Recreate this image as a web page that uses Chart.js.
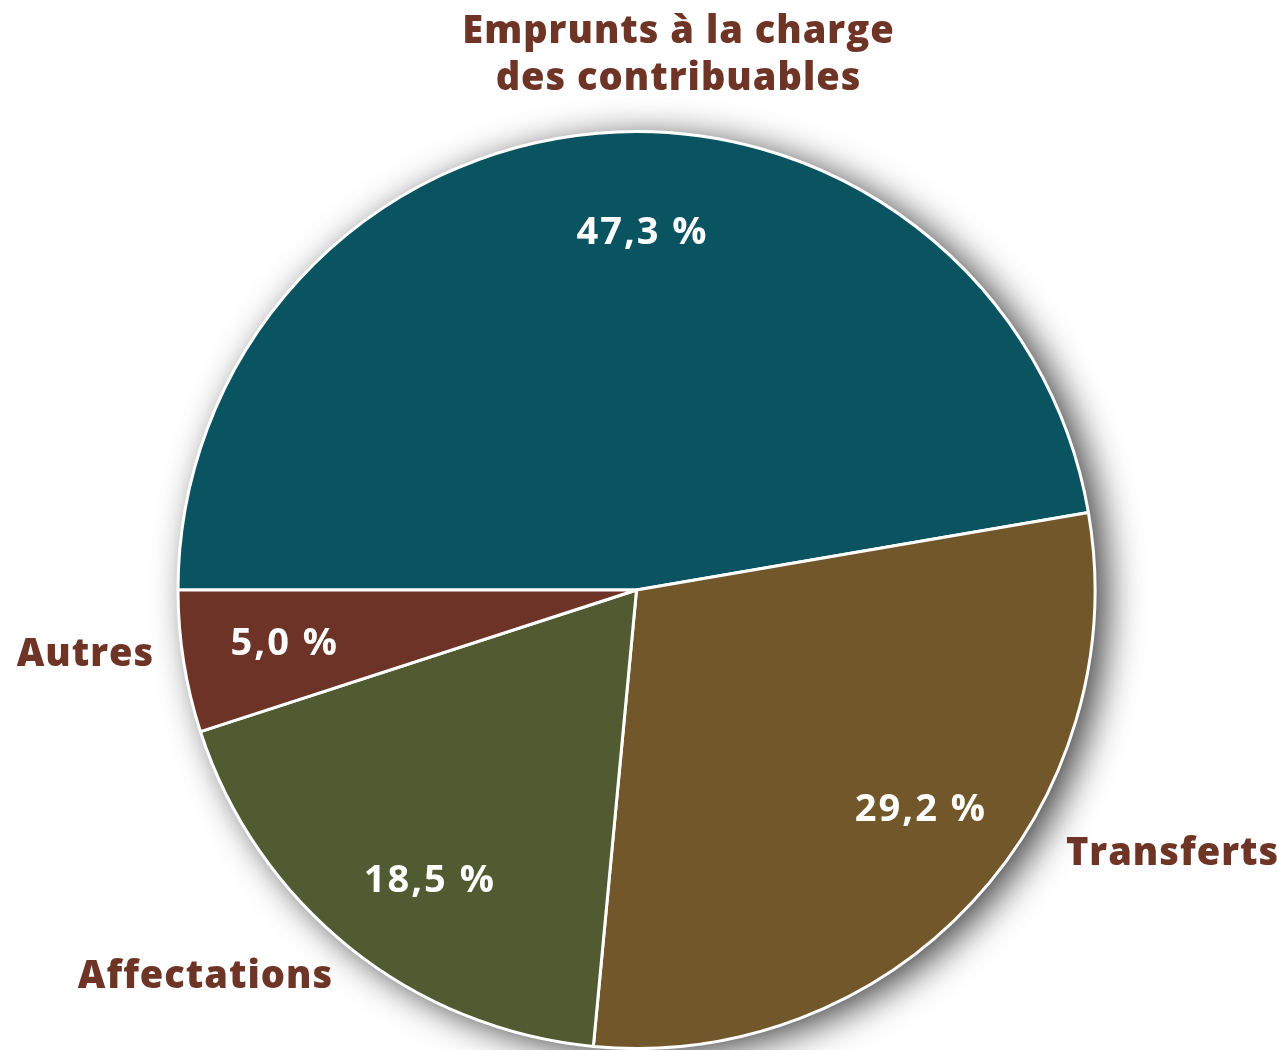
<!DOCTYPE html>
<html>
<head>
<meta charset="utf-8">
<script src="https://cdn.jsdelivr.net/npm/chart.js@4"></script>
<style>
  html, body { margin: 0; padding: 0; background: #fff; }
  #wrap { width: 1277px; height: 1050px; position: relative; }
</style>
</head>
<body>
<div id="wrap"><canvas id="pie"></canvas></div>
<script>
const categories = ["Emprunts à la charge des contribuables", "Transferts", "Affectations", "Autres"];
const shares = [47.3, 29.2, 18.5, 5.0];
const sliceColors = ["#0a5461", "#72572b", "#515a30", "#6d3327"];

const labelColor = "#6e3527";
const fontFamily = "'Open Sans', 'DejaVu Sans', sans-serif";

// outer labels, offsets from the pie centre
const outerLabels = [
  { lines: ["Emprunts à la charge", "des contribuables"], dx: 42, dy: [-547, -500] },
  { lines: ["Transferts"], dx: 536, dy: [275] },
  { lines: ["Affectations"], dx: -431, dy: [398] },
  { lines: ["Autres"], dx: -551, dy: [76] },
];
// small angle nudges (degrees) and radius factor for the % labels
const pctNudge = [5.5, -5, -3, 0.5];
const pctRadius = 0.78;

const fmt = v => v.toFixed(1).replace(".", ",") + " %";

const shadowPlugin = {
  id: "pieShadow",
  beforeDatasetsDraw(chart) {
    const arc = chart.getDatasetMeta(0).data[0];
    if (!arc) return;
    const ctx = chart.ctx;
    ctx.save();
    ctx.shadowColor = "rgba(0,0,0,0.75)";
    ctx.shadowBlur = 36;
    ctx.shadowOffsetX = 12;
    ctx.shadowOffsetY = 6;
    ctx.fillStyle = "#777";
    ctx.beginPath();
    ctx.arc(arc.x, arc.y, arc.outerRadius, 0, Math.PI * 2);
    ctx.fill();
    ctx.restore();
  }
};

const labelPlugin = {
  id: "pieLabels",
  afterDatasetsDraw(chart) {
    const meta = chart.getDatasetMeta(0);
    const ctx = chart.ctx;
    const cx = meta.data[0].x, cy = meta.data[0].y;
    ctx.save();
    ctx.textAlign = "center";
    ctx.textBaseline = "alphabetic";

    ctx.fillStyle = "#fff";
    ctx.font = `700 38px ${fontFamily}`;
    ctx.letterSpacing = "2px";
    meta.data.forEach((arc, i) => {
      const mid = (arc.startAngle + arc.endAngle) / 2 + pctNudge[i] * Math.PI / 180;
      const r = arc.outerRadius * pctRadius;
      ctx.fillText(fmt(shares[i]), cx + Math.cos(mid) * r + 2, cy + Math.sin(mid) * r + 12);
    });

    ctx.fillStyle = labelColor;
    ctx.font = `800 38px ${fontFamily}`;
    ctx.letterSpacing = "1px";
    outerLabels.forEach(l => {
      l.lines.forEach((t, k) => ctx.fillText(t, cx + l.dx, cy + l.dy[k]));
    });
    ctx.restore();
  }
};

new Chart(document.getElementById("pie"), {
  type: "pie",
  data: {
    labels: categories,
    datasets: [{
      data: shares,
      backgroundColor: sliceColors,
      borderColor: "#ffffff",
      borderWidth: 3,
      hoverOffset: 0,
    }],
  },
  options: {
    responsive: true,
    maintainAspectRatio: false,
    animation: false,
    rotation: -90,
    layout: { padding: { top: 130, bottom: 0, left: 176, right: 180 } },
    plugins: {
      legend: { display: false },
      tooltip: { enabled: false },
    },
  },
  plugins: [shadowPlugin, labelPlugin],
});
</script>
</body>
</html>
